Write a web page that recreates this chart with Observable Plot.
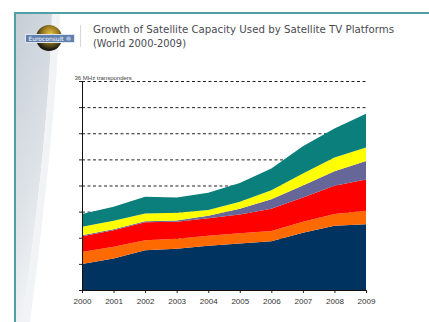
<!DOCTYPE html>
<html>
<head>
<meta charset="utf-8">
<script src="https://cdn.jsdelivr.net/npm/d3@7"></script>
<script src="https://cdn.jsdelivr.net/npm/@observablehq/plot@0.6"></script>
<style>
  html, body { margin: 0; padding: 0; background: #fff; }
  #page { position: relative; width: 429px; height: 322px; overflow: hidden; background: #fff; }
  #bg { position: absolute; left: 0; top: 0; }
  #globe { position: absolute; left: 36px; top: 25px; width: 26px; height: 26px; border-radius: 50%;
    background: radial-gradient(circle at 55% 35%, #e8c44a 0%, #9a7a1e 35%, #1b1b12 70%); }
  #badge { position: absolute; left: 25px; top: 34px; width: 50px; height: 9px; background: #5f7fae;
    border: 1px solid #dfe6f0; color: #fff; font: 6px "DejaVu Sans", sans-serif; line-height: 8px; text-align: center; box-sizing: border-box; }
  #sep { position: absolute; left: 80px; top: 25px; width: 1px; height: 22px; background: #d8d8d8; }
  #title { position: absolute; left: 0; top: 0; }
  #chart { position: absolute; left: 0; top: 0; }
</style>
</head>
<body>
<div id="page">
  <svg id="bg" width="429" height="322">
    <defs>
      <linearGradient id="pg" x1="0" y1="0" x2="0.3" y2="1">
        <stop offset="0" stop-color="#c6ced6"/>
        <stop offset="0.6" stop-color="#dde2e7"/>
        <stop offset="1" stop-color="#f3f5f7"/>
      </linearGradient>
    </defs>
    <path d="M16,14 L52,14 C50,90 40,200 22,322 L16,322 Z" fill="url(#pg)"/>
    <path d="M52,14 C50,90 40,200 22,322 L30,322 C46,200 56,100 60,14 Z" fill="#f1f3f5"/>
    <rect x="14" y="12" width="415" height="2" fill="#4f9fa3"/>
    <rect x="14" y="12" width="2" height="310" fill="#4f9fa3"/>
  </svg>
  <div id="globe"></div>
  <div id="badge">Euroconsult ®</div>
  <div id="sep"></div>
  <svg id="title" width="429" height="60">
    <text x="93" y="33" font-family="DejaVu Sans" font-size="10.5" fill="#4a4a52" textLength="301" lengthAdjust="spacingAndGlyphs">Growth of Satellite Capacity Used by Satellite TV Platforms</text>
    <text x="93" y="47" font-family="DejaVu Sans" font-size="10.5" fill="#4a4a52" textLength="93" lengthAdjust="spacingAndGlyphs">(World 2000-2009)</text>
  </svg>
  <div id="chart"></div>
</div>
<script>
const years = [2000, 2001, 2002, 2003, 2004, 2005, 2006, 2007, 2008, 2009];
const seriesNames = ["s1", "s2", "s3", "s4", "s5", "s6"];
const seriesColors = ["#00335f", "#ff6a00", "#ff0000", "#666699", "#ffff00", "#0b7f7b"];
const s1 = [100, 121, 152, 158, 169, 178, 187, 219, 246, 252];
const s2 = [45, 45, 38, 38, 39, 39, 39, 42, 45, 51];
const s3 = [61, 63, 69, 65, 67, 72, 85, 93, 108, 120];
const s4 = [4, 4, 4, 5, 9, 22, 36, 46, 56, 71];
const s5 = [32, 32, 30, 30, 22, 27, 35, 46, 52, 51];
const s6 = [49, 54, 64, 58, 66, 72, 83, 104, 111, 130];
const yTicks = [0, 100, 200, 300, 400, 500, 600, 700, 800];
const yLabel = "36 MHz transponders";

const seriesValues = [s1, s2, s3, s4, s5, s6];
const data = [];
seriesNames.forEach((name, i) => {
  years.forEach((yr, j) => data.push({ year: yr, value: seriesValues[i][j], series: name }));
});

const chart = Plot.plot({
  width: 429,
  height: 322,
  marginLeft: 82,
  marginRight: 63,
  marginTop: 81,
  marginBottom: 32,
  style: { background: "transparent", fontFamily: "Liberation Sans", fontSize: "8px", color: "#333" },
  x: { domain: [2000, 2009] },
  y: { domain: [0, 800] },
  color: { domain: seriesNames, range: seriesColors },
  marks: [
    Plot.ruleY(yTicks.slice(1), { stroke: "#222", strokeWidth: 1, strokeDasharray: "3,2.5" }),
    Plot.areaY(data, { x: "year", y: "value", fill: "series", order: seriesNames, curve: "linear" }),
    Plot.axisX({ ticks: years, tickFormat: d => String(d), tickSize: 3, tickPadding: 5, label: null, stroke: "#222" }),
    Plot.axisY({ ticks: yTicks, tickFormat: () => "", tickSize: 3, label: null, stroke: "#222" }),
    Plot.ruleX([2000], { stroke: "#111", strokeWidth: 1 }),
    Plot.ruleY([0], { stroke: "#111", strokeWidth: 1 }),
    Plot.text([yLabel], { frameAnchor: "top-left", dx: -8, dy: -6, textAnchor: "start", fontSize: 6, fill: "#444" })
  ]
});
document.getElementById("chart").appendChild(chart);
</script>
</body>
</html>
